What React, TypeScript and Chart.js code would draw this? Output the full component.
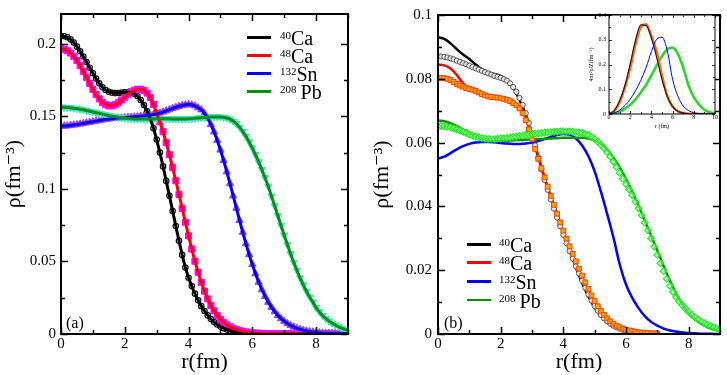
import React, { useEffect, useRef } from "react";
import { Chart, registerables } from "chart.js";

Chart.register(...registerables);

const SERIF = "'Liberation Serif', 'DejaVu Serif', serif";

// ---------- radial grids (fm) ----------
const R01 = [
  0, 0.1, 0.2, 0.3, 0.4, 0.5, 0.6, 0.7, 0.8, 0.9,
  1, 1.1, 1.2, 1.3, 1.4, 1.5, 1.6, 1.7, 1.8, 1.9,
  2, 2.1, 2.2, 2.3, 2.4, 2.5, 2.6, 2.7, 2.8, 2.9,
  3, 3.1, 3.2, 3.3, 3.4, 3.5, 3.6, 3.7, 3.8, 3.9,
  4, 4.1, 4.2, 4.3, 4.4, 4.5, 4.6, 4.7, 4.8, 4.9,
  5, 5.1, 5.2, 5.3, 5.4, 5.5, 5.6, 5.7, 5.8, 5.9,
  6, 6.1, 6.2, 6.3, 6.4, 6.5, 6.6, 6.7, 6.8, 6.9,
  7, 7.1, 7.2, 7.3, 7.4, 7.5, 7.6, 7.7, 7.8, 7.9,
  8, 8.1, 8.2, 8.3, 8.4, 8.5, 8.6, 8.7, 8.8, 8.9,
  9,
];
const R02 = [
  0, 0.2, 0.4, 0.6, 0.8, 1, 1.2, 1.4, 1.6, 1.8,
  2, 2.2, 2.4, 2.6, 2.8, 3, 3.2, 3.4, 3.6, 3.8,
  4, 4.2, 4.4, 4.6, 4.8, 5, 5.2, 5.4, 5.6, 5.8,
  6, 6.2, 6.4, 6.6, 6.8, 7, 7.2, 7.4, 7.6, 7.8,
  8, 8.2, 8.4, 8.6, 8.8, 9,
];
const R05 = [0, 0.5, 1, 1.5, 2, 2.5, 3, 3.5, 4, 4.5, 5, 5.5, 6, 6.5, 7, 7.5, 8, 8.5, 9, 9.5, 10];

// ---------- legend text ----------
const MASS = ["40", "48", "132", "208"];
const SYMBOL = ["Ca", "Ca", "Sn", "Pb"];

// ---------- panel (a): densities (fm^-3), step 0.1 fm ----------
const A_CA40 = [
  0.2055, 0.2052, 0.2045, 0.2030, 0.2008, 0.1980, 0.1948, 0.1912, 0.1874, 0.1835,
  0.1797, 0.1760, 0.1727, 0.1700, 0.1681, 0.1669, 0.1662, 0.1660, 0.1661, 0.1663,
  0.1665, 0.1666, 0.1664, 0.1655, 0.1638, 0.1612, 0.1578, 0.1535, 0.1484, 0.1418,
  0.1340, 0.1250, 0.1155, 0.1055, 0.0952, 0.0848, 0.0744, 0.0642, 0.0545, 0.0458,
  0.0388, 0.0330, 0.0278, 0.0232, 0.0192, 0.0158, 0.0128, 0.0103, 0.0082, 0.0065,
  0.0051, 0.0040, 0.0031, 0.0024, 0.0018, 0.0014, 0.0011, 0.0008, 0.0006, 0.0005,
  0.0004, 0.0003, 0.0003, 0.0002, 0.0002, 0.0001, 0.0001, 0.0001, 0.0001, 0.0001,
  0.0001, 0, 0, 0, 0, 0, 0, 0, 0, 0,
  0, 0, 0, 0, 0, 0, 0, 0, 0, 0,
  0,
];
const A_CA48 = [
  0.1965, 0.1962, 0.1952, 0.1936, 0.1913, 0.1884, 0.1849, 0.1810, 0.1768, 0.1726,
  0.1686, 0.1650, 0.1620, 0.1596, 0.1580, 0.1572, 0.1572, 0.1580, 0.1594, 0.1612,
  0.1632, 0.1652, 0.1669, 0.1680, 0.1686, 0.1686, 0.1678, 0.1660, 0.1630, 0.1582,
  0.1520, 0.1462, 0.1394, 0.1318, 0.1236, 0.1148, 0.1056, 0.0962, 0.0866, 0.0770,
  0.0676, 0.0586, 0.0502, 0.0425, 0.0356, 0.0295, 0.0242, 0.0197, 0.0159, 0.0127,
  0.0101, 0.0080, 0.0063, 0.0049, 0.0038, 0.0030, 0.0023, 0.0018, 0.0014, 0.0011,
  0.0008, 0.0006, 0.0005, 0.0004, 0.0003, 0.0003, 0.0002, 0.0002, 0.0002, 0.0001,
  0.0001, 0.0001, 0.0001, 0.0001, 0.0001, 0, 0, 0, 0, 0,
  0, 0, 0, 0, 0, 0, 0, 0, 0, 0,
  0,
];
const A_SN132 = [
  0.1432, 0.1433, 0.1434, 0.1437, 0.1440, 0.1443, 0.1447, 0.1451, 0.1455, 0.1459,
  0.1463, 0.1467, 0.1471, 0.1475, 0.1479, 0.1482, 0.1484, 0.1486, 0.1488, 0.1489,
  0.1490, 0.1492, 0.1494, 0.1496, 0.1498, 0.1500, 0.1502, 0.1505, 0.1508, 0.1512,
  0.1517, 0.1523, 0.1530, 0.1538, 0.1546, 0.1554, 0.1562, 0.1569, 0.1575, 0.1579,
  0.1581, 0.1579, 0.1572, 0.1559, 0.1545, 0.1520, 0.1487, 0.1444, 0.1393, 0.1334,
  0.1268, 0.1196, 0.1118, 0.1036, 0.0952, 0.0867, 0.0783, 0.0701, 0.0622, 0.0548,
  0.0479, 0.0415, 0.0357, 0.0305, 0.0259, 0.0219, 0.0184, 0.0154, 0.0128, 0.0106,
  0.0088, 0.0072, 0.0059, 0.0048, 0.0039, 0.0032, 0.0026, 0.0021, 0.0017, 0.0014,
  0.0011, 0.0009, 0.0007, 0.0006, 0.0005, 0.0004, 0.0003, 0.0003, 0.0002, 0.0002,
  0.0001,
];
const A_PB208 = [
  0.1563, 0.1562, 0.1561, 0.1559, 0.1556, 0.1553, 0.1549, 0.1545, 0.1540, 0.1535,
  0.1530, 0.1525, 0.1520, 0.1515, 0.1510, 0.1505, 0.1501, 0.1497, 0.1493, 0.1490,
  0.1487, 0.1485, 0.1483, 0.1482, 0.1481, 0.1481, 0.1481, 0.1481, 0.1482, 0.1482,
  0.1483, 0.1483, 0.1483, 0.1483, 0.1483, 0.1482, 0.1482, 0.1482, 0.1482, 0.1482,
  0.1483, 0.1484, 0.1486, 0.1488, 0.1490, 0.1492, 0.1494, 0.1495, 0.1496, 0.1496,
  0.1495, 0.1493, 0.1488, 0.1480, 0.1467, 0.1449, 0.1425, 0.1396, 0.1362, 0.1324,
  0.1282, 0.1236, 0.1186, 0.1133, 0.1077, 0.1018, 0.0950, 0.0884, 0.0816, 0.0748,
  0.0681, 0.0616, 0.0553, 0.0494, 0.0438, 0.0386, 0.0338, 0.0294, 0.0255, 0.0220,
  0.0182, 0.0153, 0.0128, 0.0107, 0.0090, 0.0075, 0.0062, 0.0050, 0.0040, 0.0032,
  0.0026,
];

// ---------- panel (b): lines (step 0.2 fm) ----------
const B_CA40_LINE = [
  0.0930, 0.0925, 0.0911, 0.0893, 0.0876, 0.0862, 0.0845, 0.0830, 0.0821, 0.0815,
  0.0809, 0.0797, 0.0772, 0.0734, 0.0688, 0.0620, 0.0555, 0.0488, 0.0428, 0.0372,
  0.0315, 0.0262, 0.0208, 0.0160, 0.0118, 0.0083, 0.0056, 0.0037, 0.0024, 0.0015,
  0.0009, 0.0005, 0.0003, 0.0002, 0.0001, 0.0000,
];
const B_CA48_LINE = [
  0.0845, 0.0842, 0.0832, 0.0812, 0.0786, 0.0768, 0.0759, 0.0752, 0.0747, 0.0743,
  0.0740, 0.0735, 0.0726, 0.0710, 0.0677, 0.0618, 0.0557, 0.0492, 0.0432, 0.0377,
  0.0321, 0.0268, 0.0215, 0.0167, 0.0124, 0.0089, 0.0061, 0.0041, 0.0027, 0.0017,
  0.0011, 0.0007, 0.0004, 0.0003, 0.0002, 0.0001,
];
const B_SN132_LINE = [
  0.0550, 0.0556, 0.0567, 0.0579, 0.0589, 0.0596, 0.0600, 0.0602, 0.0602, 0.0601,
  0.0599, 0.0597, 0.0596, 0.0596, 0.0597, 0.0600, 0.0605, 0.0611, 0.0618, 0.0624,
  0.0627, 0.0625, 0.0613, 0.0591, 0.0557, 0.0510, 0.0446, 0.0376, 0.0302, 0.0218,
  0.0155, 0.0113, 0.0081, 0.0056, 0.0038, 0.0026, 0.0017, 0.0011, 0.0008, 0.0005,
  0.0003, 0.0002, 0.0001, 0.0001, 0.0000, 0.0000,
];
const B_PB208_LINE = [
  0.0669, 0.0667, 0.0661, 0.0652, 0.0641, 0.0630, 0.0620, 0.0613, 0.0609, 0.0607,
  0.0606, 0.0606, 0.0607, 0.0608, 0.0609, 0.0610, 0.0611, 0.0612, 0.0613, 0.0614,
  0.0615, 0.0615, 0.0615, 0.0615, 0.0613, 0.0607, 0.0596, 0.0578, 0.0553, 0.0522,
  0.0486, 0.0446, 0.0402, 0.0356, 0.0309, 0.0262, 0.0213, 0.0168, 0.0126, 0.0092,
  0.0065, 0.0046, 0.0032, 0.0022, 0.0015, 0.0010,
];

// ---------- panel (b): symbols (step 0.1 fm) ----------
const B_CA40_PTS = [
  0.0870, 0.0870, 0.0869, 0.0867, 0.0864, 0.0861, 0.0857, 0.0853, 0.0849, 0.0845,
  0.0841, 0.0837, 0.0833, 0.0829, 0.0825, 0.0821, 0.0817, 0.0813, 0.0809, 0.0806,
  0.0803, 0.0799, 0.0794, 0.0786, 0.0774, 0.0759, 0.0740, 0.0718, 0.0692, 0.0662,
  0.0628, 0.0591, 0.0553, 0.0516, 0.0483, 0.0452, 0.0422, 0.0393, 0.0365, 0.0338,
  0.0311, 0.0285, 0.0260, 0.0236, 0.0212, 0.0190, 0.0167, 0.0145, 0.0124, 0.0105,
  0.0088, 0.0073, 0.0060, 0.0049, 0.0040, 0.0032, 0.0026, 0.0021, 0.0017, 0.0013,
  0.0010, 0.0008, 0.0006, 0.0005, 0.0004, 0.0003, 0.0002, 0.0002, 0.0001, 0.0001,
  0.0001,
];
const B_CA48_PTS = [
  0.0803, 0.0803, 0.0802, 0.0800, 0.0796, 0.0790, 0.0784, 0.0779, 0.0775, 0.0771,
  0.0768, 0.0766, 0.0762, 0.0757, 0.0752, 0.0748, 0.0745, 0.0743, 0.0742, 0.0741,
  0.0739, 0.0737, 0.0734, 0.0730, 0.0724, 0.0717, 0.0707, 0.0692, 0.0670, 0.0642,
  0.0612, 0.0580, 0.0549, 0.0520, 0.0491, 0.0462, 0.0433, 0.0405, 0.0377, 0.0350,
  0.0324, 0.0299, 0.0275, 0.0251, 0.0228, 0.0205, 0.0183, 0.0162, 0.0141, 0.0121,
  0.0103, 0.0087, 0.0072, 0.0060, 0.0049, 0.0040, 0.0032, 0.0026, 0.0021, 0.0017,
  0.0013, 0.0011, 0.0009, 0.0007, 0.0005, 0.0004, 0.0003, 0.0003, 0.0002, 0.0002,
  0.0001,
];
const B_PB208_PTS = [
  0.0652, 0.0652, 0.0651, 0.0650, 0.0648, 0.0645, 0.0642, 0.0638, 0.0634, 0.0630,
  0.0626, 0.0622, 0.0619, 0.0616, 0.0614, 0.0612, 0.0611, 0.0611, 0.0611, 0.0612,
  0.0613, 0.0614, 0.0615, 0.0616, 0.0618, 0.0619, 0.0621, 0.0622, 0.0624, 0.0625,
  0.0627, 0.0628, 0.0629, 0.0630, 0.0631, 0.0632, 0.0633, 0.0634, 0.0634, 0.0635,
  0.0635, 0.0635, 0.0635, 0.0634, 0.0633, 0.0632, 0.0630, 0.0627, 0.0623, 0.0618,
  0.0611, 0.0603, 0.0593, 0.0582, 0.0570, 0.0556, 0.0540, 0.0523, 0.0505, 0.0487,
  0.0470, 0.0453, 0.0435, 0.0415, 0.0394, 0.0372, 0.0349, 0.0325, 0.0300, 0.0274,
  0.0248, 0.0222, 0.0197, 0.0173, 0.0151, 0.0132, 0.0116, 0.0102, 0.0090, 0.0079,
  0.0069, 0.0060, 0.0052, 0.0045, 0.0039, 0.0034, 0.0029, 0.0025, 0.0021, 0.0017,
  0.0014,
];

// ---------- inset: 4 pi r^2 rho / Z (fm^-1), step 0.5 fm ----------
const I_CA40 = [0, 0.014, 0.053, 0.114, 0.202, 0.298, 0.360, 0.358, 0.308, 0.228, 0.140, 0.072, 0.030, 0.011, 0.004, 0.001, 0, 0, 0, 0, 0];
const I_CA48 = [0, 0.012, 0.048, 0.108, 0.186, 0.281, 0.352, 0.362, 0.314, 0.250, 0.155, 0.072, 0.030, 0.011, 0.004, 0.001, 0, 0, 0, 0, 0];
const I_SN132 = [0, 0.004, 0.015, 0.034, 0.060, 0.094, 0.136, 0.188, 0.252, 0.302, 0.310, 0.255, 0.140, 0.072, 0.032, 0.014, 0.005, 0.002, 0.001, 0, 0];
const I_PB208 = [0, 0.0025, 0.0096, 0.022, 0.0376, 0.059, 0.0865, 0.118, 0.156, 0.196, 0.234, 0.262, 0.268, 0.243, 0.188, 0.116, 0.068, 0.038, 0.017, 0.007, 0.003];

// ---------- ticks ----------
const X_TICKS = [0, 2, 4, 6, 8];
const X_LABELS = ["0", "2", "4", "6", "8"];
const X_MINOR = [1, 3, 5, 7, 9];
const A_Y_TICKS = [0, 0.05, 0.1, 0.15, 0.2];
const A_Y_LABELS = ["0", "0.05", "0.1", "0.15", "0.2"];
const A_Y_MINOR = [0.025, 0.075, 0.125, 0.175];
const B_Y_TICKS = [0, 0.02, 0.04, 0.06, 0.08, 0.1];
const B_Y_LABELS = ["0", "0.02", "0.04", "0.06", "0.08", "0.1"];
const B_Y_MINOR = [0.01, 0.03, 0.05, 0.07, 0.09];
const IN_X_TICKS = [0, 2, 4, 6, 8, 10];
const IN_X_LABELS = ["0", "2", "4", "6", "8", "10"];
const IN_X_MINOR = [1, 3, 5, 7, 9];
const IN_Y_TICKS = [0, 0.1, 0.2, 0.3, 0.4];
const IN_Y_LABELS = ["0", "0.1", "0.2", "0.3", "0.4"];
const IN_Y_MINOR = [0.05, 0.15, 0.25, 0.35];

const pts = (xs: number[], ys: number[]) => ys.map((y, i) => ({ x: xs[i], y }));

// inward ticks on all four sides + frame
const frameTicks = {
  id: "frameTicks",
  beforeDatasetsDraw(chart: any, _a: any, o: any) {
    if (!o || !o.fill) return;
    const { ctx, chartArea: c } = chart;
    ctx.save();
    ctx.fillStyle = o.fill;
    ctx.fillRect(c.left, c.top, c.right - c.left, c.bottom - c.top);
    ctx.restore();
  },
  afterDatasetsDraw(chart: any, _a: any, o: any) {
    if (!o || !o.xMajor) return;
    const { ctx, chartArea: c, scales } = chart;
    const xs = scales.x;
    const ys = scales.y;
    ctx.save();
    ctx.strokeStyle = "#000";
    ctx.lineWidth = o.tickWidth;
    ctx.beginPath();
    const vx = (vals: number[], len: number) => {
      vals.forEach((v) => {
        const p = Math.round(xs.getPixelForValue(v)) + 0.5;
        ctx.moveTo(p, c.bottom);
        ctx.lineTo(p, c.bottom - len);
        ctx.moveTo(p, c.top);
        ctx.lineTo(p, c.top + len);
      });
    };
    const vy = (vals: number[], len: number) => {
      vals.forEach((v) => {
        const p = Math.round(ys.getPixelForValue(v)) + 0.5;
        ctx.moveTo(c.left, p);
        ctx.lineTo(c.left + len, p);
        ctx.moveTo(c.right, p);
        ctx.lineTo(c.right - len, p);
      });
    };
    vx(o.xMajor, o.major);
    vx(o.xMinor, o.minor);
    vy(o.yMajor, o.major);
    vy(o.yMinor, o.minor);
    ctx.stroke();
    ctx.lineWidth = o.frameWidth;
    ctx.strokeRect(c.left, c.top, c.right - c.left, c.bottom - c.top);
    ctx.restore();
  },
};
Chart.register(frameTicks);

function axis(p: any) {
  return {
    type: "linear",
    min: p.min,
    max: p.max,
    afterBuildTicks: (s: any) => {
      s.ticks = p.ticks.map((v: number) => ({ value: v }));
    },
    afterFit: (s: any) => {
      if (p.horizontal) s.height = p.fixed;
      else s.width = p.fixed;
    },
    ticks: {
      callback: (_v: any, i: number) => p.labels[i],
      font: { family: SERIF, size: p.size },
      color: "#000",
      padding: p.pad,
      autoSkip: false,
      maxRotation: 0,
      minRotation: 0,
    },
    grid: { display: false, drawTicks: false },
    border: { display: false },
    title: {
      display: true,
      text: p.title,
      font: { family: SERIF, size: p.titleSize },
      color: "#000",
      padding: p.titlePad,
    },
  };
}

function baseOptions(extra: any) {
  return {
    responsive: false,
    animation: false,
    devicePixelRatio: 1,
    events: [],
    plugins: {
      legend: { display: false },
      tooltip: { enabled: false },
      frameTicks: extra.frame,
    },
    layout: { padding: extra.padding },
    scales: { x: extra.x, y: extra.y },
  };
}

const line = (data: any, color: string, width: number, order: number, smooth = false) => ({
  data,
  borderColor: color,
  backgroundColor: color,
  borderWidth: width,
  pointRadius: 0,
  showLine: true,
  fill: false,
  tension: smooth ? 0.4 : 0,
  cubicInterpolationMode: smooth ? "monotone" : "default",
  order,
});

const marks = (data: any, style: string, radius: number, fillC: string, borderC: string, bw: number, order: number, rotation = 0) => ({
  data,
  showLine: false,
  pointStyle: style,
  pointRadius: radius,
  pointRotation: rotation,
  pointBackgroundColor: fillC,
  pointBorderColor: borderC,
  pointBorderWidth: bw,
  borderColor: borderC,
  backgroundColor: fillC,
  order,
});

const GREEN = "#0a8f0a";

function configA() {
  return {
    type: "scatter",
    data: {
      datasets: [
        line(pts(R01, A_PB208), GREEN, 3, 1),
        line(pts(R01, A_SN132), "#0000ff", 3, 2),
        line(pts(R01, A_CA48), "#ff0000", 3, 3),
        line(pts(R01, A_CA40), "#000000", 3, 4),
        marks(pts(R01, A_PB208), "triangle", 4.2, "#40e0d0", "#40e0d0", 1, 5, 180),
        marks(pts(R01, A_SN132), "triangle", 4.2, "#9b3fe0", "#9b3fe0", 1, 6),
        marks(pts(R01, A_CA48), "rect", 4.3, "#ff00ff", "#ff00ff", 1, 7),
        marks(pts(R01, A_CA40), "circle", 2.7, "rgba(255,255,255,0)", "#111111", 1.2, 8),
      ],
    },
    options: baseOptions({
      padding: { left: 0, top: 6, right: 12, bottom: 0 },
      x: axis({ min: 0, max: 9, ticks: X_TICKS, labels: X_LABELS, horizontal: true, fixed: 41, size: 15, pad: 1, title: "r(fm)", titleSize: 22, titlePad: { top: 0, bottom: 0 } }),
      y: axis({ min: 0, max: 0.2205, ticks: A_Y_TICKS, labels: A_Y_LABELS, horizontal: false, fixed: 61, size: 15, pad: 5, title: "ρ(fm⁻³)", titleSize: 22, titlePad: { top: 1, bottom: 0 } }),
      frame: { xMajor: X_TICKS, xMinor: X_MINOR, yMajor: A_Y_TICKS, yMinor: A_Y_MINOR, major: 7, minor: 4, tickWidth: 1.5, frameWidth: 2 },
    }),
  };
}

function configB() {
  return {
    type: "scatter",
    data: {
      datasets: [
        marks(pts(R01, B_PB208_PTS), "rectRot", 3.4, "rgba(140,255,140,0.6)", "#1ee81e", 1.1, 1),
        marks(pts(R01, B_CA48_PTS), "rect", 3.4, "#ffa500", "#ff4000", 1, 2),
        marks(pts(R01, B_CA40_PTS), "circle", 2.6, "#e6e6e6", "#555555", 1, 3),
        line(pts(R02, B_PB208_LINE), GREEN, 2.5, 4, true),
        line(pts(R02, B_SN132_LINE), "#0000ff", 2.5, 5, true),
        line(pts(R02, B_CA48_LINE), "#ff0000", 2.5, 6, true),
        line(pts(R02, B_CA40_LINE), "#000000", 2.5, 7, true),
      ],
    },
    options: baseOptions({
      padding: { left: 0, top: 11, right: 7, bottom: 0 },
      x: axis({ min: 0, max: 9, ticks: X_TICKS, labels: X_LABELS, horizontal: true, fixed: 41, size: 15, pad: 1, title: "r(fm)", titleSize: 22, titlePad: { top: 0, bottom: 0 } }),
      y: axis({ min: 0, max: 0.1, ticks: B_Y_TICKS, labels: B_Y_LABELS, horizontal: false, fixed: 78, size: 15, pad: 6, title: "ρ(fm⁻³)", titleSize: 22, titlePad: { top: 9, bottom: 0 } }),
      frame: { xMajor: X_TICKS, xMinor: X_MINOR, yMajor: B_Y_TICKS, yMinor: B_Y_MINOR, major: 7, minor: 4, tickWidth: 1.5, frameWidth: 2 },
    }),
  };
}

function configInset() {
  return {
    type: "scatter",
    data: {
      datasets: [
        line(pts(R05, I_CA40), "#222222", 1.2, 1, true),
        line(pts(R05, I_SN132), "#0000ff", 1, 2, true),
        line(pts(R05, I_CA48), "#ff6a1a", 2.6, 3, true),
        line(pts(R05, I_PB208), "#2fd42f", 2.6, 4, true),
      ],
    },
    options: baseOptions({
      padding: { left: 0, top: 10, right: 5, bottom: 0 },
      x: axis({ min: 0, max: 10, ticks: IN_X_TICKS, labels: IN_X_LABELS, horizontal: true, fixed: 19, size: 6, pad: 0, title: "r (fm)", titleSize: 6, titlePad: { top: 0, bottom: 3 } }),
      y: axis({ min: 0, max: 0.4, ticks: IN_Y_TICKS, labels: IN_Y_LABELS, horizontal: false, fixed: 25, size: 6, pad: 3, title: "4πr²ρ/Z(fm⁻¹)", titleSize: 6, titlePad: { top: 4, bottom: 0 } }),
      frame: { xMajor: IN_X_TICKS, xMinor: IN_X_MINOR, yMajor: IN_Y_TICKS, yMinor: IN_Y_MINOR, major: 3, minor: 2, tickWidth: 0.8, frameWidth: 1, fill: "#ffffff" },
    }),
  };
}

function ChartCanvas(props: { left: number; top: number; width: number; height: number; make: () => any }) {
  const ref = useRef<HTMLCanvasElement>(null);
  useEffect(() => {
    const chart = new Chart(ref.current as HTMLCanvasElement, props.make());
    return () => chart.destroy();
  }, []);
  return (
    <canvas
      ref={ref}
      width={props.width}
      height={props.height}
      style={{ position: "absolute", left: props.left, top: props.top, width: props.width, height: props.height }}
    />
  );
}

function Legend(props: { lineX: number; textX: number; rows: number[]; colors: string[]; lineW: number; thick: number }) {
  return (
    <>
      {props.rows.map((yc, i) => (
        <React.Fragment key={i}>
          <div
            style={{
              position: "absolute",
              left: props.lineX,
              top: yc - props.thick / 2,
              width: props.lineW,
              height: props.thick,
              background: props.colors[i],
            }}
          />
          <div
            style={{
              position: "absolute",
              left: props.textX,
              top: yc - 9.5,
              fontFamily: SERIF,
              fontSize: 20,
              lineHeight: "20px",
              whiteSpace: "nowrap",
              color: "#000",
            }}
          >
            <span style={{ fontSize: 11, position: "relative", top: -6 }}>{MASS[i]}</span>
            {i === 3 ? "\u2009" : ""}
            {SYMBOL[i]}
          </div>
        </React.Fragment>
      ))}
    </>
  );
}

const LEG_COLORS = ["#000000", "#ff0000", "#0000ff", GREEN];

export default function App() {
  return (
    <div style={{ position: "fixed", left: 0, top: 0, width: 727, height: 375, background: "#fff", overflow: "hidden" }}>
      <ChartCanvas left={0} top={0} width={360} height={375} make={configA} />
      <ChartCanvas left={360} top={0} width={367} height={375} make={configB} />
      <ChartCanvas left={584} top={5} width={136} height={128} make={configInset} />
      <Legend lineX={247} textX={280} rows={[37.7, 55.7, 73.3, 91]} colors={LEG_COLORS} lineW={24} thick={3} />
      <Legend lineX={467} textX={499} rows={[244.3, 262.7, 281.7, 300]} colors={LEG_COLORS} lineW={24} thick={2.5} />
      <div style={{ position: "absolute", left: 66, top: 314.5, fontFamily: SERIF, fontSize: 16, lineHeight: "16px", color: "#000" }}>(a)</div>
      <div style={{ position: "absolute", left: 444, top: 314.5, fontFamily: SERIF, fontSize: 16, lineHeight: "16px", color: "#000" }}>(b)</div>
    </div>
  );
}
